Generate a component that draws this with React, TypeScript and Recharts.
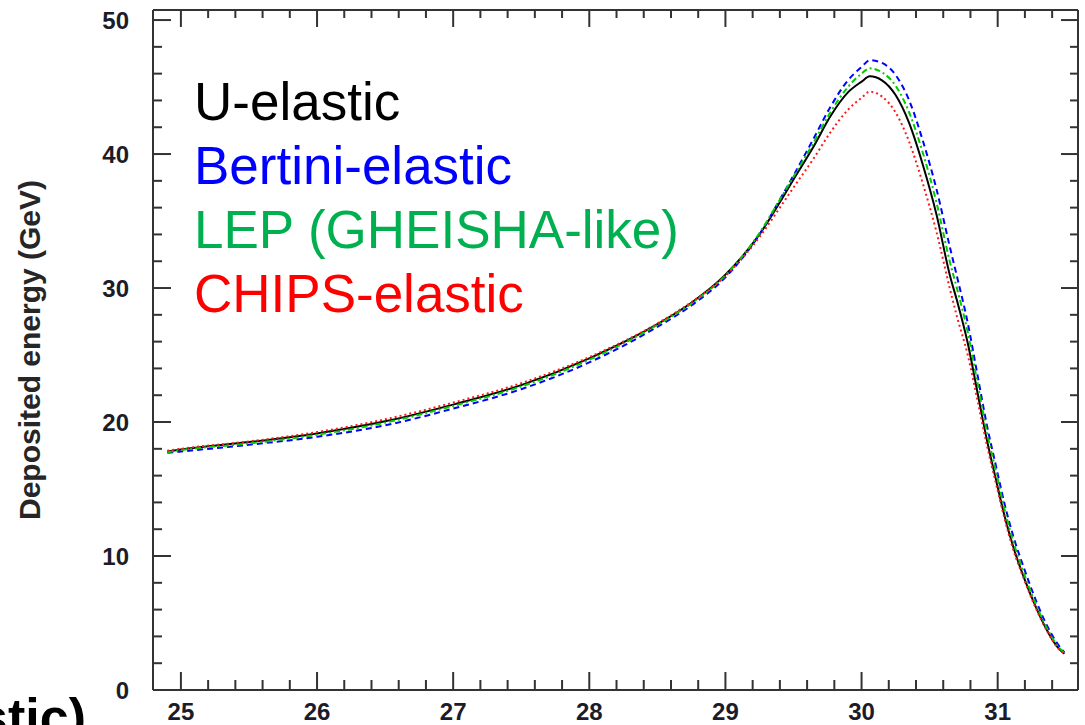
import { LineChart, Line, XAxis, YAxis, Legend } from 'recharts';

const FONT = '"Liberation Sans", Arial, Helvetica, sans-serif';
const AXIS = '#333333';
const TICK_TEXT = '#1c1c28';

// depth along the beam (cm)
const xValues = [
  24.9, 25.0, 25.5, 26.0, 26.5, 27.0, 27.5, 28.0, 28.5, 28.75, 29.0, 29.25, 29.4, 29.5, 29.65, 29.77,
  29.9, 30.0, 30.06, 30.15, 30.25, 30.35, 30.45, 30.55, 30.65, 30.7, 30.78, 30.85, 30.92, 30.99,
  31.05, 31.12, 31.2, 31.28, 31.36, 31.44, 31.49,
];

const uElastic = [
  17.8, 17.95, 18.5, 19.15, 20.05, 21.3, 22.75, 24.75, 27.3, 28.9, 31.0, 34.0, 36.4, 38.1, 40.6, 42.8,
  44.6, 45.4, 45.8, 45.5, 44.4, 42.3, 39.2, 35.5, 30.9, 29.1, 25.9, 22.3, 18.7, 15.6,
  13.0, 10.5, 8.2, 6.2, 4.5, 3.2, 2.7,
];

const bertiniElastic = [
  17.7, 17.8, 18.3, 18.9, 19.75, 21.0, 22.45, 24.45, 27.1, 28.7, 30.8, 34.0, 36.6, 38.4, 41.2, 43.5,
  45.5, 46.5, 47.0, 46.8, 45.9, 44.0, 41.0, 37.4, 33.0, 30.9, 27.4, 23.6, 19.8, 16.6,
  13.9, 11.3, 8.9, 6.7, 4.85, 3.45, 2.8,
];

const lepGheisha = [
  17.75, 17.9, 18.4, 19.05, 19.95, 21.2, 22.65, 24.65, 27.25, 28.85, 30.95, 34.1, 36.6, 38.3, 40.9, 43.1,
  45.0, 46.0, 46.4, 46.1, 45.1, 43.1, 40.1, 36.4, 31.9, 30.0, 26.7, 23.0, 19.3, 16.2,
  13.5, 10.9, 8.5, 6.4, 4.65, 3.3, 2.75,
];

const chipsElastic = [
  17.85, 18.0, 18.55, 19.25, 20.2, 21.45, 22.9, 24.85, 27.35, 28.95, 30.9, 33.8, 36.0, 37.5, 39.7, 41.6,
  43.3, 44.2, 44.65, 44.3, 43.1, 40.9, 37.8, 34.2, 29.9, 27.9, 25.0, 21.7, 18.3, 15.3,
  12.8, 10.3, 8.1, 6.1, 4.45, 3.15, 2.7,
];

const xMajorTicks = [25, 26, 27, 28, 29, 30, 31];
const xTicks = [
  25, 25.2, 25.4, 25.6, 25.8, 26, 26.2, 26.4, 26.6, 26.8, 27, 27.2, 27.4, 27.6, 27.8, 28, 28.2, 28.4,
  28.6, 28.8, 29, 29.2, 29.4, 29.6, 29.8, 30, 30.2, 30.4, 30.6, 30.8, 31, 31.2, 31.4,
];
const yMajorTicks = [0, 10, 20, 30, 40, 50];
const yTicks = [
  0, 2, 4, 6, 8, 10, 12, 14, 16, 18, 20, 22, 24, 26, 28, 30, 32, 34, 36, 38, 40, 42, 44, 46, 48, 50,
];

const xDomain: [number, number] = [24.795, 31.59];
const yDomain: [number, number] = [0, 50.75];

const series = [
  { key: 'uElastic', name: 'U-elastic', stroke: '#000000', text: '#000000', dash: undefined },
  { key: 'bertini', name: 'Bertini-elastic', stroke: '#0000ff', text: '#0000ff', dash: '6 4' },
  { key: 'lep', name: 'LEP (GHEISHA-like)', stroke: '#00cc00', text: '#00b050', dash: '6 3 2 3' },
  { key: 'chips', name: 'CHIPS-elastic', stroke: '#ff1a1a', text: '#ff0000', dash: '2 3' },
];

const data = xValues.map((x, i) => ({
  x,
  uElastic: uElastic[i],
  bertini: bertiniElastic[i],
  lep: lepGheisha[i],
  chips: chipsElastic[i],
}));

const isMajor = (v: number, majors: number[]) => majors.some((m) => Math.abs(m - v) < 1e-6);

const labelStyle = { fontFamily: FONT, fontSize: 24, fontWeight: 'bold' as const, fill: TICK_TEXT };

function BottomTick({ x, y, payload }: any) {
  const major = isMajor(payload.value, xMajorTicks);
  return (
    <g>
      <line x1={x} y1={y} x2={x} y2={y - (major ? 18 : 10)} stroke={AXIS} strokeWidth={2} />
      {major && (
        <text x={x} y={y + 30} textAnchor="middle" {...labelStyle}>
          {payload.value}
        </text>
      )}
    </g>
  );
}

function TopTick({ x, y, payload }: any) {
  const major = isMajor(payload.value, xMajorTicks);
  return <line x1={x} y1={y} x2={x} y2={y + (major ? 17 : 8)} stroke={AXIS} strokeWidth={2} />;
}

function LeftTick({ x, y, payload }: any) {
  const major = isMajor(payload.value, yMajorTicks);
  return (
    <g>
      <line x1={x} y1={y} x2={x + (major ? 18 : 9)} y2={y} stroke={AXIS} strokeWidth={2} />
      {major && (
        <text x={x - 24} y={y + 8.5} textAnchor="end" {...labelStyle}>
          {payload.value}
        </text>
      )}
    </g>
  );
}

function RightTick({ x, y, payload }: any) {
  const major = isMajor(payload.value, yMajorTicks);
  return <line x1={x} y1={y} x2={x - (major ? 17 : 8)} y2={y} stroke={AXIS} strokeWidth={2} />;
}

function YTitle({ viewBox }: any) {
  const cx = (viewBox?.x ?? 0) + 39.5;
  const cy = (viewBox?.y ?? 10) + (viewBox?.height ?? 680) / 2;
  return (
    <text
      x={cx}
      y={cy}
      transform={`rotate(-90 ${cx} ${cy})`}
      textAnchor="middle"
      fontFamily={FONT}
      fontSize={30}
      fontWeight="bold"
      fill="#262626"
    >
      Deposited energy (GeV)
    </text>
  );
}

function LegendBlock() {
  return (
    <div style={{ fontFamily: FONT, fontSize: 53, lineHeight: '64px', whiteSpace: 'nowrap' }}>
      {series.map((s) => (
        <div key={s.key} style={{ color: s.text }}>
          {s.name}
        </div>
      ))}
    </div>
  );
}

export default function App() {
  const axisLine = { stroke: AXIS, strokeWidth: 2 };
  return (
    <div
      style={{
        position: 'absolute',
        left: 0,
        top: 0,
        width: 1085,
        height: 725,
        overflow: 'hidden',
        background: '#ffffff',
      }}
    >
      <LineChart width={1085} height={725} data={data} margin={{ top: 9, right: 6, bottom: 0, left: 0 }}>
        <XAxis
          dataKey="x"
          type="number"
          domain={xDomain}
          allowDataOverflow
          ticks={xTicks}
          interval={0}
          height={35}
          tickSize={0}
          tickMargin={0}
          tickLine={false}
          axisLine={axisLine}
          tick={<BottomTick />}
        />
        <XAxis
          xAxisId="top"
          orientation="top"
          dataKey="x"
          type="number"
          domain={xDomain}
          allowDataOverflow
          ticks={xTicks}
          interval={0}
          height={1}
          tickSize={0}
          tickMargin={0}
          tickLine={false}
          axisLine={axisLine}
          tick={<TopTick />}
        />
        <YAxis
          type="number"
          domain={yDomain}
          allowDataOverflow
          ticks={yTicks}
          interval={0}
          width={153}
          tickSize={0}
          tickMargin={0}
          tickLine={false}
          axisLine={axisLine}
          tick={<LeftTick />}
          label={<YTitle />}
        />
        <YAxis
          yAxisId="right"
          orientation="right"
          type="number"
          domain={yDomain}
          allowDataOverflow
          ticks={yTicks}
          interval={0}
          width={1}
          tickSize={0}
          tickMargin={0}
          tickLine={false}
          axisLine={axisLine}
          tick={<RightTick />}
        />
        <Legend
          layout="vertical"
          align="center"
          verticalAlign="middle"
          wrapperStyle={{ left: 194, top: 70, width: 'auto', height: 'auto' }}
          content={() => <LegendBlock />}
        />
        {series.map((s) => (
          <Line
            key={s.key}
            type="monotone"
            dataKey={s.key}
            name={s.name}
            stroke={s.stroke}
            strokeWidth={2}
            strokeDasharray={s.dash}
            dot={false}
            activeDot={false}
            isAnimationActive={false}
          />
        ))}
      </LineChart>
      <div
        style={{
          position: 'absolute',
          left: -314,
          top: 691,
          width: 400,
          textAlign: 'right',
          fontFamily: FONT,
          fontSize: 52,
          lineHeight: '52px',
          fontWeight: 'bold',
          color: '#000',
          whiteSpace: 'nowrap',
        }}
      >
        (U-elastic)
      </div>
    </div>
  );
}
